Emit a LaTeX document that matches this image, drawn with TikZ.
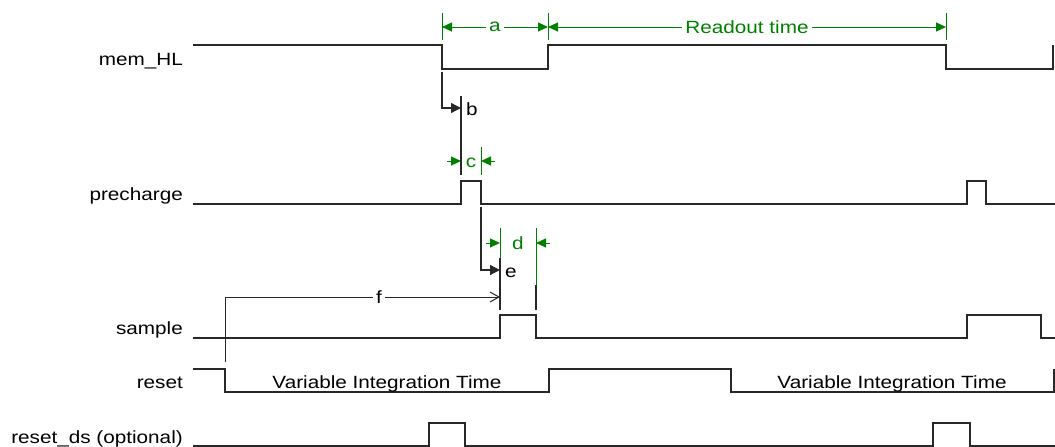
\documentclass[tikz,border=0pt]{standalone}
\usepackage{fontspec}
\setmainfont[FakeStretch=1.17]{Liberation Sans}
\usetikzlibrary{arrows.meta}
\definecolor{dimgreen}{RGB}{0,128,0}
\definecolor{sig}{RGB}{40,40,40}
\begin{document}
\begin{tikzpicture}[x=1pt,y=-1pt,
  fnt/.style={font=\fontsize{17.7}{20}\selectfont},
  signal/.style={draw=sig,line width=1.3pt,line join=miter},
  sname/.style={fnt,anchor=base east,inner sep=0pt},
  lbl/.style={fnt,anchor=base,inner sep=0pt},
  glbl/.style={fnt,text=dimgreen,anchor=base,inner sep=0pt},
  onlbl/.style={fnt,fill=white,inner xsep=3pt,inner ysep=0pt},
  dimline/.style={draw=dimgreen,line width=1pt},
  refline/.style={draw=sig,line width=1.2pt},
  gtip/.style={-{Triangle[length=10pt,width=9pt]}},
  ktip/.style={-{Triangle[length=10pt,width=10pt]}},
  otip/.style={-{Straight Barb[length=9pt,width=10pt]}},
  ]
\useasboundingbox (0,0) rectangle (1055,447);

% signal names
\node[sname] (lmem) at (183,65)  {mem\_HL};
\node[sname] (lpre) at (183,200) {precharge};
\node[sname] (lsam) at (183,334) {sample};
\node[sname] (lres) at (183,388) {reset};
\node[sname] (lrds) at (183,443) {reset\_ds (optional)};

% waveforms
\draw[signal] (193,45) -- (442,45) -- (442,69) -- (548,69) -- (548,45)
  -- (946,45) -- (946,69) -- (1053,69) -- (1053,45);
\draw[signal] (193,204) -- (461,204) -- (461,181) -- (481,181) -- (481,204)
  -- (967,204) -- (967,181) -- (986,181) -- (986,204) -- (1055,204);
\draw[signal] (193,338) -- (500,338) -- (500,315) -- (536,315) -- (536,338)
  -- (967,338) -- (967,315) -- (1041,315) -- (1041,338) -- (1055,338);
\draw[signal] (193,369) -- (225,369) -- (225,392) -- (549,392) -- (549,369)
  -- (731,369) -- (731,392) -- (1054,392) -- (1054,369);
\draw[signal] (193,446) -- (429,446) -- (429,423) -- (465,423) -- (465,446)
  -- (933,446) -- (933,423) -- (970,423) -- (970,446) -- (1055,446);

\node[lbl] (vit1) at (387,388) {Variable Integration Time};
\node[lbl] (vit2) at (892,388) {Variable Integration Time};

% a and Readout time
\coordinate (aL) at (442,27);
\coordinate (aR) at (548,27);
\coordinate (rR) at (946,27);
\draw[dimline] (442,13) -- (442,40);
\draw[dimline] (548,13) -- (548,40);
\draw[dimline] (946,13) -- (946,40);
\draw[dimline,{Triangle[length=10pt,width=9pt]}-{Triangle[length=10pt,width=9pt]}]
  (aL) -- node[onlbl,text=dimgreen] (la) {a} (aR);
\draw[dimline,{Triangle[length=10pt,width=9pt]}-{Triangle[length=10pt,width=9pt]}]
  (aR) -- node[onlbl,text=dimgreen] (lro) {Readout time} (rR);

% b
\coordinate (bS) at (442,72);
\coordinate (bC) at (442,108);
\coordinate (bT) at (461,108);
\draw[refline] (461,96) -- (461,175);
\draw[refline,ktip] (bS) -- (bC) -- (bT);
\node[lbl,anchor=base west] (lb) at (466,115) {b};

% c
\draw[dimline] (481,147) -- (481,175);
\coordinate (cL) at (447,161);
\coordinate (cLt) at (461,161);
\coordinate (cR) at (495,161);
\coordinate (cRt) at (481,161);
\draw[dimline,gtip] (cL) -- (cLt);
\draw[dimline,gtip] (cR) -- (cRt);
\node[glbl] (lc) at (471,167) {c};

% e
\coordinate (eS) at (481,207);
\coordinate (eC) at (481,270);
\coordinate (eT) at (500,270);
\draw[refline,ktip] (eS) -- (eC) -- (eT);
\node[lbl,anchor=base west] (le) at (505,277) {e};

% d
\draw[dimline] (500,228) -- (500,258);
\draw[refline] (500,258) -- (500,310);
\draw[dimline] (536,228) -- (536,285);
\draw[refline] (536,285) -- (536,310);
\coordinate (dL) at (486,243);
\coordinate (dLt) at (500,243);
\coordinate (dR) at (550,243);
\coordinate (dRt) at (536,243);
\draw[dimline,gtip] (dL) -- (dLt);
\draw[dimline,gtip] (dR) -- (dRt);
\node[glbl] (ld) at (518,249) {d};

% f
\coordinate (fS) at (225,362);
\coordinate (fC) at (225,297);
\coordinate (fT) at (500,297);
\draw[draw=sig,line width=1pt,otip] (fS) -- (fC) -- node[onlbl,pos=0.56] (lf) {f} (fT);
\end{tikzpicture}
\end{document}
